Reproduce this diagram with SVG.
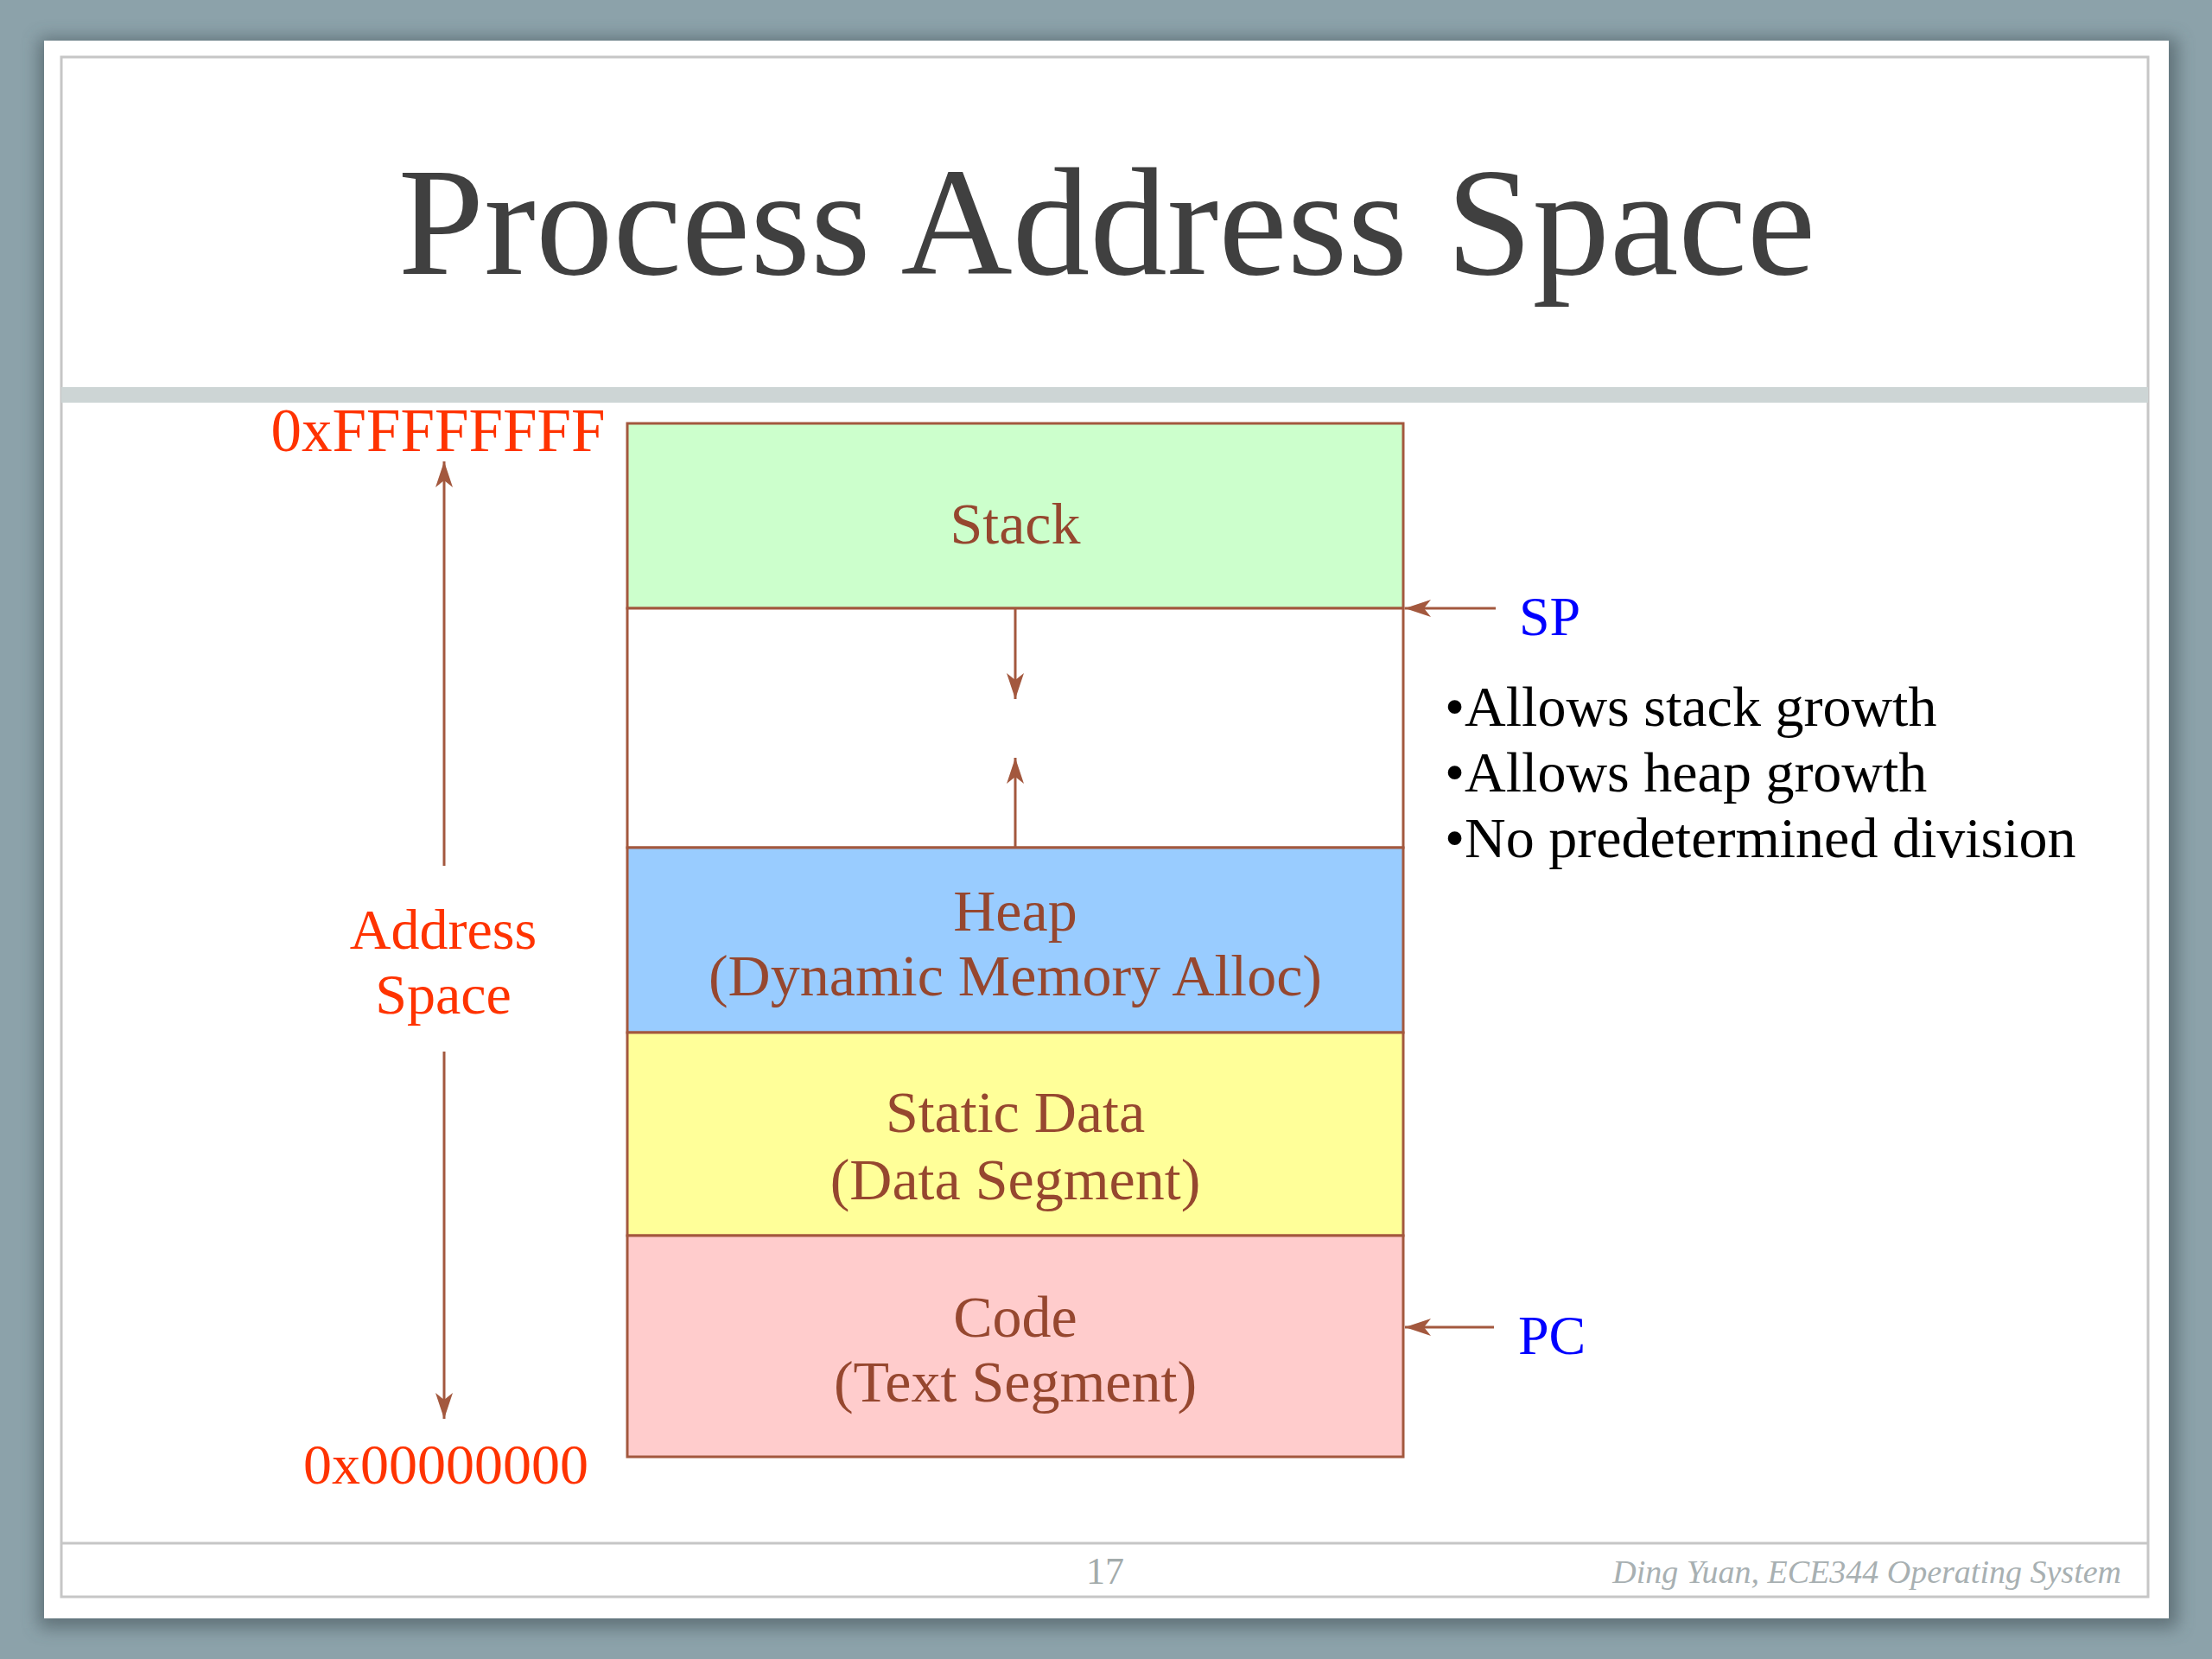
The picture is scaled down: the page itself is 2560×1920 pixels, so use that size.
<svg xmlns="http://www.w3.org/2000/svg" width="2560" height="1920" viewBox="0 0 2560 1920">
  <defs>
    <style>
      .serif { font-family: "Liberation Serif", "Times New Roman", serif; }
      .box { stroke: #a3583e; stroke-width: 3; }
      .boxtext { font-family: "Liberation Serif", serif; font-size: 68px; fill: #96472f; text-anchor: middle; }
      .addr { font-family: "Liberation Serif", serif; font-size: 66px; fill: #ff3300; text-anchor: middle; }
      .addr-big { font-size: 71px; }
      .reg { font-family: "Liberation Serif", serif; font-size: 64px; fill: #0000ff; }
      .bullet { font-family: "Liberation Serif", serif; font-size: 66px; fill: #000000; }
      .conn { stroke: #a3583e; stroke-width: 3; fill: none; }
      .frame { stroke: #c6c6c6; stroke-width: 3; fill: none; }
    </style>
    <marker id="arrow" viewBox="0 -12 32 24" refX="30" refY="0" markerWidth="32" markerHeight="24" markerUnits="userSpaceOnUse" orient="auto">
      <path d="M30,0 L0,-10 L8,0 L0,10 Z" fill="#a3583e"/>
    </marker>
    <filter id="shadow" x="-5%" y="-5%" width="110%" height="110%">
      <feGaussianBlur stdDeviation="10"/>
    </filter>
  </defs>

  <!-- background -->
  <rect x="0" y="0" width="2560" height="1920" fill="#8ca2aa"/>
  <rect x="45" y="44" width="2475" height="1840" fill="#3a4a50" opacity="0.55" filter="url(#shadow)"/>
  <rect x="51" y="47" width="2459" height="1826" fill="#ffffff"/>

  <!-- slide frame -->
  <g id="frame">
    <rect class="frame" x="71" y="66" width="2415" height="1782"/>
    <rect x="71" y="448" width="2415" height="18" fill="#cdd5d5"/>
    <line class="frame" x1="71" y1="1786" x2="2486" y2="1786"/>
  </g>

  <!-- title -->
  <g id="title">
    <text class="serif" x="1281" y="317" font-size="179" fill="#404040" text-anchor="middle">Process Address Space</text>
  </g>

  <!-- memory segments -->
  <g id="stack">
    <rect class="box" x="726" y="490" width="898" height="214" fill="#ccffcc"/>
    <text class="boxtext" x="1175" y="629">Stack</text>
  </g>
  <g id="free">
    <rect class="box" x="726" y="704" width="898" height="277" fill="#ffffff"/>
  </g>
  <g id="heap">
    <rect class="box" x="726" y="981" width="898" height="214" fill="#99ccff"/>
    <text class="boxtext" x="1175" y="1077">Heap</text>
    <text class="boxtext" x="1175" y="1152">(Dynamic Memory Alloc)</text>
  </g>
  <g id="static">
    <rect class="box" x="726" y="1195" width="898" height="235" fill="#ffff99"/>
    <text class="boxtext" x="1175" y="1310">Static Data</text>
    <text class="boxtext" x="1175" y="1388">(Data Segment)</text>
  </g>
  <g id="code">
    <rect class="box" x="726" y="1430" width="898" height="256" fill="#ffcccc"/>
    <text class="boxtext" x="1175" y="1547">Code</text>
    <text class="boxtext" x="1175" y="1622">(Text Segment)</text>
  </g>

  <!-- address labels -->
  <g id="addr-high">
    <text class="addr addr-big" x="507" y="522">0xFFFFFFFF</text>
  </g>
  <g id="addr-low">
    <text class="addr" x="516" y="1717">0x00000000</text>
  </g>
  <g id="addr-space">
    <text class="addr" x="513" y="1098">Address</text>
    <text class="addr" x="513" y="1173">Space</text>
  </g>

  <!-- registers -->
  <g id="sp">
    <text class="reg" x="1758" y="735">SP</text>
  </g>
  <g id="pc">
    <text class="reg" x="1757" y="1567">PC</text>
  </g>

  <!-- notes -->
  <g id="notes">
    <text class="bullet" x="1672" y="840">•Allows stack growth</text>
    <text class="bullet" x="1672" y="916">•Allows heap growth</text>
    <text class="bullet" x="1672" y="992">•No predetermined division</text>
  </g>

  <!-- connectors -->
  <g id="connectors">
    <line class="conn" x1="514" y1="1002" x2="514" y2="534" marker-end="url(#arrow)"/>
    <line class="conn" x1="514" y1="1217" x2="514" y2="1642" marker-end="url(#arrow)"/>
    <line class="conn" x1="1175" y1="704" x2="1175" y2="809" marker-end="url(#arrow)"/>
    <line class="conn" x1="1175" y1="981" x2="1175" y2="877" marker-end="url(#arrow)"/>
    <line class="conn" x1="1731" y1="704" x2="1626" y2="704" marker-end="url(#arrow)"/>
    <line class="conn" x1="1729" y1="1536" x2="1626" y2="1536" marker-end="url(#arrow)"/>
  </g>

  <!-- footer -->
  <g id="footer">
    <text class="serif" x="1279" y="1833" font-size="44" fill="#a3abab" text-anchor="middle">17</text>
    <text class="serif" x="2455" y="1832" font-size="38" font-style="italic" fill="#a8b0b2" text-anchor="end">Ding Yuan, ECE344 Operating System</text>
  </g>
</svg>
